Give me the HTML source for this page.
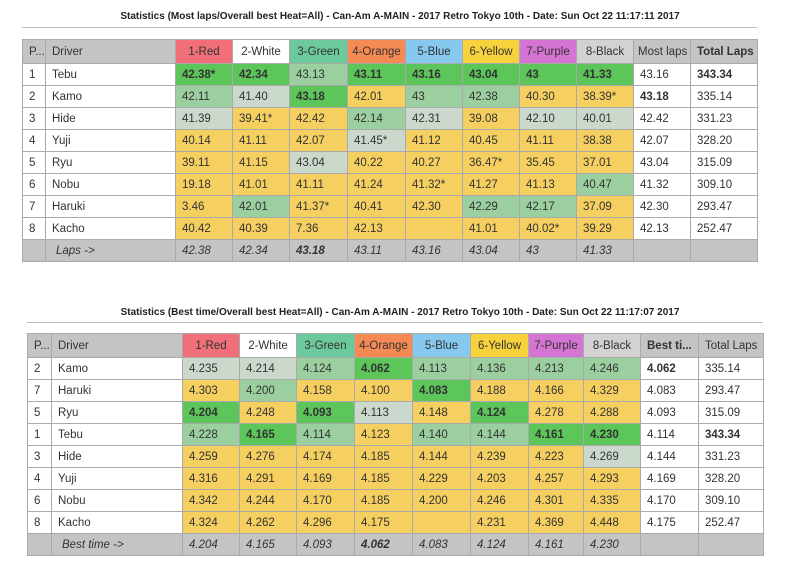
<!DOCTYPE html>
<html><head><meta charset="utf-8"><style>
body{margin:0;width:800px;height:578px;background:#fff;position:relative;font-family:"Liberation Sans","DejaVu Sans",sans-serif;overflow:hidden}
.title{position:absolute;left:0;width:800px;text-align:center;font-size:10px;font-weight:bold;color:#222}
.hr{position:absolute;height:1px;background:#bbb}
table{position:absolute;border-collapse:collapse;table-layout:fixed;font-size:11.5px;color:#333}
td{border:1px solid #aaa;height:21px;padding:0 0 0 6px;white-space:nowrap;overflow:hidden;background:#fff}
tr.h td{height:23px;background:#c4c4c4;font-size:11.5px}
tr.f td{background:#c4c4c4;font-style:italic}
td.c{text-align:center;padding:0}
.G{background:#5cc65a!important;font-weight:bold}
.L{background:#9ccf9f!important}
.S{background:#cad9cc!important}
.Y{background:#f5cf5f!important}
.b{font-weight:bold}
.rd{background:#f06f78!important}.wh{background:#fff!important}.gr{background:#6cc99b!important}.or{background:#f58a55!important}
.bl{background:#86c8ee!important}.ye{background:#f7d23d!important}.pu{background:#d575d3!important}.bk{background:#d2d2d2!important}
</style></head><body>
<div class="title" style="top:11px">Statistics (Most laps/Overall best Heat=All) - Can-Am A-MAIN - 2017 Retro Tokyo 10th - Date: Sun Oct 22 11:17:11 2017</div>
<div class="hr" style="top:27px;left:22px;width:735px"></div>
<table style="left:22px;top:39px;width:735px">
<colgroup><col style="width:23px"><col style="width:130px"><col style="width:57px"><col style="width:57px"><col style="width:58px"><col style="width:58px"><col style="width:57px"><col style="width:57px"><col style="width:57px"><col style="width:57px"><col style="width:57px"><col style="width:67px"></colgroup>
<tr class="h"><td>P...</td><td>Driver</td><td class="c rd">1-Red</td><td class="c wh">2-White</td><td class="c gr">3-Green</td><td class="c or">4-Orange</td><td class="c bl">5-Blue</td><td class="c ye">6-Yellow</td><td class="c pu">7-Purple</td><td class="c bk">8-Black</td><td style="padding-left:4px">Most laps</td><td class="b">Total Laps</td></tr>
<tr><td>1</td><td>Tebu</td><td class="G">42.38*</td><td class="G">42.34</td><td class="L">43.13</td><td class="G">43.11</td><td class="G">43.16</td><td class="G">43.04</td><td class="G">43</td><td class="G">41.33</td><td>43.16</td><td class="b">343.34</td></tr>
<tr><td>2</td><td>Kamo</td><td class="L">42.11</td><td class="S">41.40</td><td class="G">43.18</td><td class="Y">42.01</td><td class="L">43</td><td class="L">42.38</td><td class="Y">40.30</td><td class="Y">38.39*</td><td class="b">43.18</td><td>335.14</td></tr>
<tr><td>3</td><td>Hide</td><td class="S">41.39</td><td class="Y">39.41*</td><td class="Y">42.42</td><td class="L">42.14</td><td class="S">42.31</td><td class="Y">39.08</td><td class="S">42.10</td><td class="S">40.01</td><td>42.42</td><td>331.23</td></tr>
<tr><td>4</td><td>Yuji</td><td class="Y">40.14</td><td class="Y">41.11</td><td class="Y">42.07</td><td class="S">41.45*</td><td class="Y">41.12</td><td class="Y">40.45</td><td class="Y">41.11</td><td class="Y">38.38</td><td>42.07</td><td>328.20</td></tr>
<tr><td>5</td><td>Ryu</td><td class="Y">39.11</td><td class="Y">41.15</td><td class="S">43.04</td><td class="Y">40.22</td><td class="Y">40.27</td><td class="Y">36.47*</td><td class="Y">35.45</td><td class="Y">37.01</td><td>43.04</td><td>315.09</td></tr>
<tr><td>6</td><td>Nobu</td><td class="Y">19.18</td><td class="Y">41.01</td><td class="Y">41.11</td><td class="Y">41.24</td><td class="Y">41.32*</td><td class="Y">41.27</td><td class="Y">41.13</td><td class="L">40.47</td><td>41.32</td><td>309.10</td></tr>
<tr><td>7</td><td>Haruki</td><td class="Y">3.46</td><td class="L">42.01</td><td class="Y">41.37*</td><td class="Y">40.41</td><td class="Y">42.30</td><td class="L">42.29</td><td class="L">42.17</td><td class="Y">37.09</td><td>42.30</td><td>293.47</td></tr>
<tr><td>8</td><td>Kacho</td><td class="Y">40.42</td><td class="Y">40.39</td><td class="Y">7.36</td><td class="Y">42.13</td><td class="Y"></td><td class="Y">41.01</td><td class="Y">40.02*</td><td class="Y">39.29</td><td>42.13</td><td>252.47</td></tr>
<tr class="f"><td></td><td style="padding-left:10px">Laps -&gt;</td><td>42.38</td><td>42.34</td><td class="b">43.18</td><td>43.11</td><td>43.16</td><td>43.04</td><td>43</td><td>41.33</td><td></td><td></td></tr>
</table>

<div class="title" style="top:307px">Statistics (Best time/Overall best Heat=All) - Can-Am A-MAIN - 2017 Retro Tokyo 10th - Date: Sun Oct 22 11:17:07 2017</div>
<div class="hr" style="top:322px;left:27px;width:736px"></div>
<table style="left:27px;top:333px;width:736px">
<colgroup><col style="width:24px"><col style="width:131px"><col style="width:57px"><col style="width:57px"><col style="width:58px"><col style="width:58px"><col style="width:58px"><col style="width:58px"><col style="width:55px"><col style="width:57px"><col style="width:58px"><col style="width:65px"></colgroup>
<tr class="h"><td>P...</td><td>Driver</td><td class="c rd">1-Red</td><td class="c wh">2-White</td><td class="c gr">3-Green</td><td class="c or">4-Orange</td><td class="c bl">5-Blue</td><td class="c ye">6-Yellow</td><td class="c pu">7-Purple</td><td class="c bk">8-Black</td><td class="b">Best ti...</td><td>Total Laps</td></tr>
<tr><td>2</td><td>Kamo</td><td class="S">4.235</td><td class="S">4.214</td><td class="L">4.124</td><td class="G">4.062</td><td class="L">4.113</td><td class="L">4.136</td><td class="L">4.213</td><td class="L">4.246</td><td class="b">4.062</td><td>335.14</td></tr>
<tr><td>7</td><td>Haruki</td><td class="Y">4.303</td><td class="L">4.200</td><td class="Y">4.158</td><td class="Y">4.100</td><td class="G">4.083</td><td class="Y">4.188</td><td class="Y">4.166</td><td class="Y">4.329</td><td>4.083</td><td>293.47</td></tr>
<tr><td>5</td><td>Ryu</td><td class="G">4.204</td><td class="Y">4.248</td><td class="G">4.093</td><td class="S">4.113</td><td class="Y">4.148</td><td class="G">4.124</td><td class="Y">4.278</td><td class="Y">4.288</td><td>4.093</td><td>315.09</td></tr>
<tr><td>1</td><td>Tebu</td><td class="L">4.228</td><td class="G">4.165</td><td class="L">4.114</td><td class="Y">4.123</td><td class="L">4.140</td><td class="L">4.144</td><td class="G">4.161</td><td class="G">4.230</td><td>4.114</td><td class="b">343.34</td></tr>
<tr><td>3</td><td>Hide</td><td class="Y">4.259</td><td class="Y">4.276</td><td class="Y">4.174</td><td class="Y">4.185</td><td class="Y">4.144</td><td class="Y">4.239</td><td class="Y">4.223</td><td class="S">4.269</td><td>4.144</td><td>331.23</td></tr>
<tr><td>4</td><td>Yuji</td><td class="Y">4.316</td><td class="Y">4.291</td><td class="Y">4.169</td><td class="Y">4.185</td><td class="Y">4.229</td><td class="Y">4.203</td><td class="Y">4.257</td><td class="Y">4.293</td><td>4.169</td><td>328.20</td></tr>
<tr><td>6</td><td>Nobu</td><td class="Y">4.342</td><td class="Y">4.244</td><td class="Y">4.170</td><td class="Y">4.185</td><td class="Y">4.200</td><td class="Y">4.246</td><td class="Y">4.301</td><td class="Y">4.335</td><td>4.170</td><td>309.10</td></tr>
<tr><td>8</td><td>Kacho</td><td class="Y">4.324</td><td class="Y">4.262</td><td class="Y">4.296</td><td class="Y">4.175</td><td class="Y"></td><td class="Y">4.231</td><td class="Y">4.369</td><td class="Y">4.448</td><td>4.175</td><td>252.47</td></tr>
<tr class="f"><td></td><td style="padding-left:10px">Best time -&gt;</td><td>4.204</td><td>4.165</td><td>4.093</td><td class="b">4.062</td><td>4.083</td><td>4.124</td><td>4.161</td><td>4.230</td><td></td><td></td></tr>
</table>
</body></html>
